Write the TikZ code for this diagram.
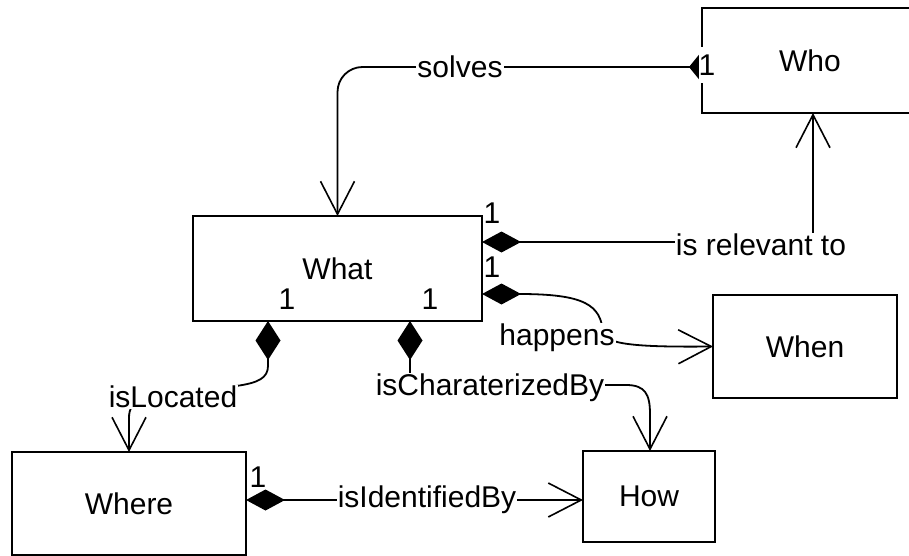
\documentclass[tikz,border=0pt]{standalone}
\usepackage{fontspec}
\setmainfont{Liberation Sans}
\usetikzlibrary{arrows.meta}
\begin{document}
\begin{tikzpicture}[x=1pt,y=-1pt,
  font=\fontsize{30}{36}\selectfont,
  entity/.style={draw, rectangle, line width=2pt, inner sep=0pt, outer sep=0pt},
  link/.style={line width=1.8pt},
  lbl/.style={fill=white, inner sep=1pt},
  mult/.style={inner sep=0pt},
  hcomp/.style={arrows={Diamond[length=39pt,width=21pt]-Straight Barb[length=33pt,width=34pt,line width=1.6pt]}},
  vcomp/.style={arrows={Diamond[length=39pt,width=25pt]-Straight Barb[length=33pt,width=34pt,line width=1.6pt]}},
  assoc/.style={arrows={Diamond[length=26pt,width=32pt]-Straight Barb[length=33pt,width=34pt,line width=1.6pt]}}
]
\useasboundingbox (0,0) rectangle (909,556);

% classes
\node[entity, minimum width=216pt, minimum height=105pt] (who)   at (810,60.5)   {Who};
\node[entity, minimum width=289pt, minimum height=105pt] (what)  at (337.5,268.5) {What};
\node[entity, minimum width=184pt, minimum height=103pt] (when)  at (805,346.5)  {When};
\node[entity, minimum width=234pt, minimum height=103pt] (where) at (129,503.5)  {Where};
\node[entity, minimum width=132pt, minimum height=91pt]  (how)   at (649,496.5)  {How};

% solves: Who -> What
\draw[link, assoc, rounded corners=25pt]
  ([shift={(13pt,-6.5pt)}]who.west) -| (what.north);
\node[lbl] (solves) at (460,67) {solves};
\node[fill=white, inner sep=0pt, minimum height=36pt, minimum width=17pt] (mwho) at (707,65) {1};

% is relevant to: What -> Who
\draw[link, hcomp] ([yshift=26.5pt]what.east) -| ([xshift=3pt]who.south);
\node[lbl] (relevant) at (761,245) {is relevant to};

% happens: What -> When
\draw[link, hcomp] ([yshift=-25.5pt]what.east)
  .. controls (585,294) and (601,305) .. (603,333)
  .. controls (606,346) and (650,347) .. (when.west);
\node[lbl] (happens) at (557,338) {happens};

% isLocated: What -> Where
\draw[link, vcomp] ([xshift=-69.5pt]what.south) -- (268,366)
  .. controls (268,378) and (258,383) .. (236,386)
  .. controls (140,392) and (129,400) .. (129,418) -- (where.north);
\node[lbl] (located) at (173,397) {isLocated};

% isCharaterizedBy: What -> How
\draw[link, vcomp] ([xshift=72.5pt]what.south) -- (410,385) -- (626,385)
  .. controls (645,385) and (650,394) .. (650,414) -- ([xshift=1pt]how.north);
\node[lbl] (characterized) at (490,388) {isCharaterizedBy};

% isIdentifiedBy: Where -> How
\draw[link, hcomp] ([yshift=3.5pt]where.east) -- ([yshift=-3.5pt]how.west);
\node[lbl] (identified) at (427,500) {isIdentifiedBy};

% multiplicities
\node[mult] (m1) at (492,213) {1};
\node[mult] (m2) at (492,267) {1};
\node[mult] (m3) at (287,299) {1};
\node[mult] (m4) at (430,299) {1};
\node[mult] (m5) at (258,477) {1};
\end{tikzpicture}
\end{document}
